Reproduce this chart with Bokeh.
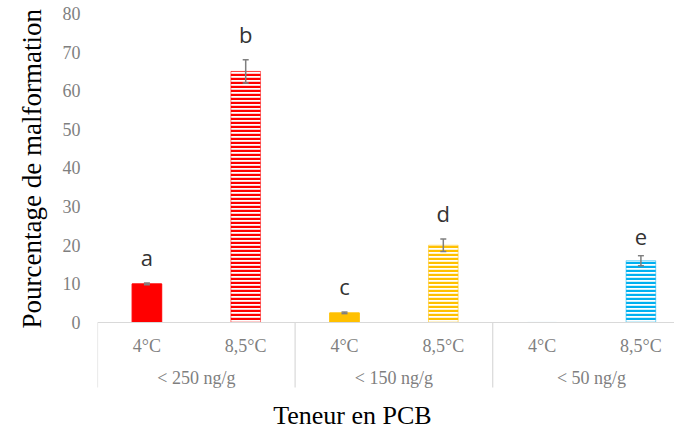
from bokeh.core.properties import value
from bokeh.embed import file_html
from bokeh.models import ColumnDataSource, FixedTicker, Label, Range1d, TeeHead, Title, Whisker
from bokeh.plotting import figure
from bokeh.resources import INLINE

# PCB content groups and rearing temperatures
groups = ["< 250 ng/g", "< 150 ng/g", "< 50 ng/g"]
temps = ["4°C", "8,5°C"]

# Malformation percentage per (group, temperature), in group order
values = [10, 65, 2.5, 20, 0, 16]
errors = [0.2, 3.0, 0.2, 1.6, 0, 1.3]
letters = ["a", "b", "c", "d", "", "e"]
colors = ["#FF0000", "#FF0000", "#FFC000", "#FFC000", "#00B0F0", "#00B0F0"]
striped = [False, True, False, True, False, True]

y_ticks = [0, 10, 20, 30, 40, 50, 60, 70, 80]

SERIF = "Liberation Serif"
GREY = "#7f7f7f"
LINE_GREY = "#d9d9d9"

# one unit per bar on the x scale; each group spans two units
n = len(groups) * len(temps)
xs = [i + 0.5 for i in range(n)]
cat_labels = [temps[i % len(temps)] for i in range(n)]
group_x = [g * len(temps) + len(temps) / 2 for g in range(len(groups))]
group_edges = [g * len(temps) for g in range(len(groups) + 1)]

p = figure(
    width=674,
    height=433,
    output_backend="svg",
    toolbar_location=None,
    x_axis_location=None,
    x_range=Range1d(0, 5.84),
    y_range=Range1d(-28.74, 80),
    min_border_left=97,
    min_border_right=0,
    min_border_top=13,
    min_border_bottom=0,
)
p.outline_line_color = None
p.xgrid.visible = False
p.ygrid.visible = False
p.background_fill_color = "white"
p.border_fill_color = "white"

# y axis: labels only
ya = p.yaxis[0]
ya.ticker = FixedTicker(ticks=y_ticks)
ya.axis_line_color = None
ya.major_tick_line_color = None
ya.minor_tick_line_color = None
ya.major_tick_out = 0
ya.major_tick_in = 0
ya.major_label_standoff = 17
ya.major_label_text_font = SERIF
ya.major_label_text_font_size = "18px"
ya.major_label_text_color = GREY

# y axis title, running upwards from just above the baseline
p.add_layout(Title(text="Pourcentage de malformation", align="left", offset=105,
                   vertical_align="top", standoff=22, text_font=SERIF,
                   text_font_size="27px", text_font_style="normal",
                   text_color="black"), "left")

# bars
solid = ColumnDataSource(dict(
    x=[x for x, s in zip(xs, striped) if not s],
    top=[v for v, s in zip(values, striped) if not s],
    color=[c for c, s in zip(colors, striped) if not s],
))
hatched = ColumnDataSource(dict(
    x=[x for x, s in zip(xs, striped) if s],
    top=[v for v, s in zip(values, striped) if s],
    color=[c for c, s in zip(colors, striped) if s],
))
p.vbar(x="x", top="top", bottom=0, width=0.3, source=solid,
       fill_color="color", line_color="color", line_width=1)
p.vbar(x="x", top="top", bottom=0, width=0.3, source=hatched,
       fill_color="white", line_color="color", line_alpha=0.5, line_width=1,
       hatch_pattern="horizontal_line", hatch_color="color",
       hatch_scale=4, hatch_weight=2.4)

# error bars (skipped where there is no value), drawn over the bars
err = ColumnDataSource(dict(
    x=[x for x, v in zip(xs, values) if v > 0],
    upper=[v + e for v, e in zip(values, errors) if v > 0],
    lower=[v - e for v, e in zip(values, errors) if v > 0],
))
p.add_layout(Whisker(
    source=err, base="x", upper="upper", lower="lower", dimension="height",
    line_color=GREY, line_width=1.5, level="overlay",
    upper_head=TeeHead(size=6, line_color=GREY, line_width=1.5),
    lower_head=TeeHead(size=6, line_color=GREY, line_width=1.5),
))

# significance letters above each bar
lab = ColumnDataSource(dict(
    x=[x for x, t in zip(xs, letters) if t],
    y=[v + e + 2.8 for v, e, t in zip(values, errors, letters) if t],
    text=[t for t in letters if t],
))
p.text(x="x", y="y", text="text", source=lab, text_align="center",
       text_baseline="bottom", text_font=value("Open Sans"),
       text_font_size="22px", text_color="#333333")

# baseline and group separators
p.segment(x0=0, y0=0, x1=6, y1=0, line_color=LINE_GREY, line_width=1.2)
p.segment(x0=group_edges, y0=[0] * len(group_edges),
          x1=group_edges, y1=[-16.8] * len(group_edges),
          line_color=LINE_GREY, line_width=1.2)

# temperature and group labels under the axis
p.text(x=xs, y=[-6] * n, text=cat_labels, text_align="center",
       text_baseline="middle", text_font=value(SERIF),
       text_font_size="18px", text_color=GREY)
p.text(x=group_x, y=[-14.5] * len(groups), text=groups, text_align="center",
       text_baseline="middle", text_font=value(SERIF),
       text_font_size="18px", text_color=GREY)

# x axis title
p.add_layout(Label(x=2.58, y=-24.1, text="Teneur en PCB", text_align="center",
                   text_baseline="middle", text_font=SERIF,
                   text_font_size="26px", text_color="black"))

open("out.html", "w").write(file_html(p, INLINE))
